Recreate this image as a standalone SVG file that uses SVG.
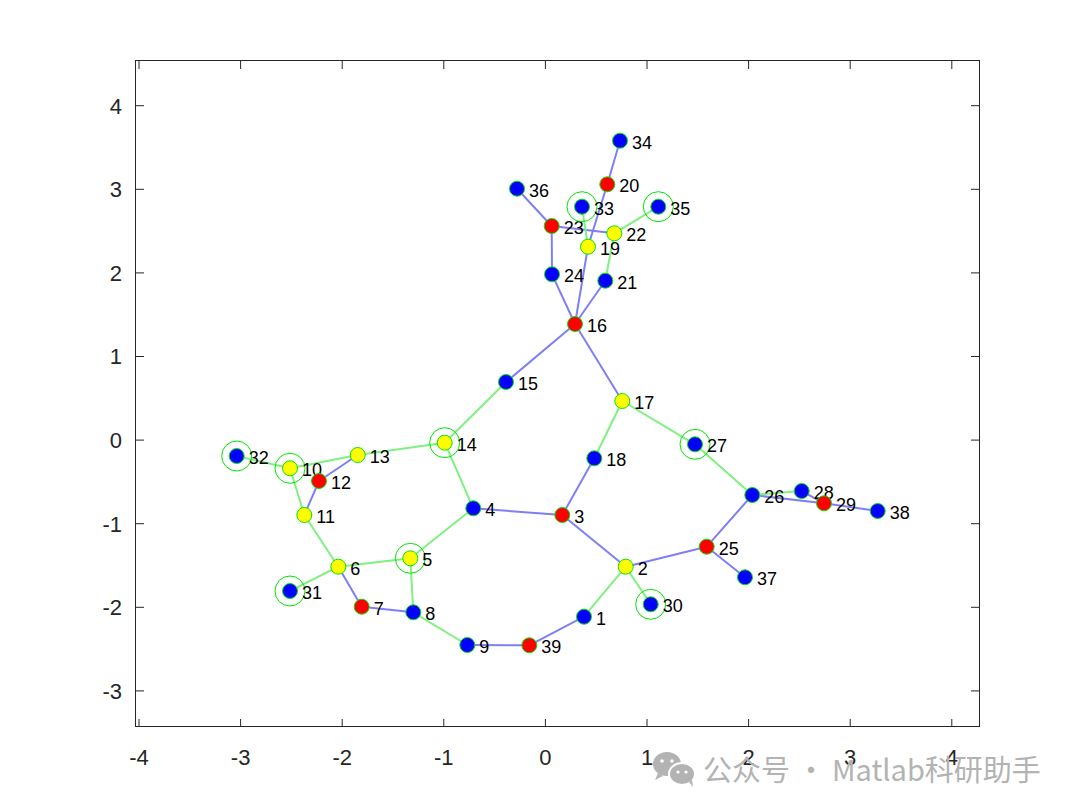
<svg xmlns="http://www.w3.org/2000/svg" width="1080" height="812" viewBox="0 0 1080 812">
<style>
.ax{stroke:#262626;stroke-width:1;fill:none}
.tk{font-family:"Liberation Sans",Arial,sans-serif;font-size:22px;fill:#262626}
.eb{stroke:#7f7ff5;stroke-width:2;fill:none}
.eg{stroke:#80f080;stroke-width:2;fill:none}
.nb{fill:#0000ff;stroke:#00e600;stroke-width:1}
.nr{fill:#ff0000;stroke:#00e600;stroke-width:1}
.ny{fill:#ffff00;stroke:#00e600;stroke-width:1}
.big{fill:none;stroke:#00e600;stroke-width:1}
.lb{font-family:"Liberation Sans",Arial,sans-serif;font-size:18px;fill:#000}
.wm{font-family:"Noto Sans CJK SC","Liberation Sans",sans-serif;font-size:29px;fill:#b3b3b3}
</style>
<rect width="1080" height="812" fill="#ffffff"/>
<g id="axes">
<rect x="135.5" y="60.5" width="844" height="666" class="ax"/>
<path class="ax" d="M139,727v-8M240.6,727v-8M342.2,727v-8M443.8,727v-8M545.4,727v-8M647,727v-8M748.6,727v-8M850.2,727v-8M951.8,727v-8
M139,61v8M240.6,61v8M342.2,61v8M443.8,61v8M545.4,61v8M647,61v8M748.6,61v8M850.2,61v8M951.8,61v8
M136,105.7h8M136,189.3h8M136,272.9h8M136,356.5h8M136,440.1h8M136,523.7h8M136,607.3h8M136,690.9h8
M979,105.7h-8M979,189.3h-8M979,272.9h-8M979,356.5h-8M979,440.1h-8M979,523.7h-8M979,607.3h-8M979,690.9h-8"/>
<g class="tk" text-anchor="middle">
<text x="139" y="765">-4</text><text x="240.6" y="765">-3</text><text x="342.2" y="765">-2</text><text x="443.8" y="765">-1</text><text x="545.4" y="765">0</text><text x="647" y="765">1</text><text x="748.6" y="765">2</text><text x="850.2" y="765">3</text><text x="951.8" y="765">4</text>
</g>
<g class="tk" text-anchor="end">
<text x="122" y="113.5">4</text><text x="122" y="197.1">3</text><text x="122" y="280.7">2</text><text x="122" y="364.3">1</text><text x="122" y="447.9">0</text><text x="122" y="531.5">-1</text><text x="122" y="615.1">-2</text><text x="122" y="698.7">-3</text>
</g>
</g>
<g id="connectors">
<path class="eb" d="M620,140.7L607.3,184.3M607.3,184.3L588,246.7M588,246.7L575,324M551.7,226L614.3,233.3M517,188.7L551.7,226M551.7,226L552,274.3M552,274.3L575,324M605.3,280.7L575,324M575,324L506,382M575,324L622.3,401M357.7,455L319,481M319,481L304.3,515M338.3,566.7L361.7,606.7M361.7,606.7L413.3,612.3M473.3,508.3L562.3,515M467.3,645L529.3,645.3M529.3,645.3L584,616.7M625.7,566.7L562.3,515M562.3,515L594.3,458.3M752.3,495L706.7,546.7M706.7,546.7L625.7,566.7M706.7,546.7L745,577.3M752.3,495L824,503.3M801.7,491L824,503.3M824,503.3L877.7,511"/>
<path class="eg" d="M582,206.7L588,246.7M614.3,233.3L658.3,206.7M614.3,233.3L605.3,280.7M506,382L444.7,442.7M444.7,442.7L357.7,455M357.7,455L290,468.3M290,468.3L236.7,456M290,468.3L304.3,515M304.3,515L338.3,566.7M338.3,566.7L290,591M338.3,566.7L410.3,558.3M410.3,558.3L413.3,612.3M410.3,558.3L473.3,508.3M444.7,442.7L473.3,508.3M413.3,612.3L467.3,645M584,616.7L625.7,566.7M625.7,566.7L650.7,604.3M594.3,458.3L622.3,401M622.3,401L695,444.3M695,444.3L752.3,495M752.3,495L801.7,491"/>
</g>
<g id="n1"><circle class="nb" cx="584" cy="616.7" r="7.5"/><text class="lb" x="596" y="624.5">1</text></g>
<g id="n2"><circle class="ny" cx="625.7" cy="566.7" r="7.5"/><text class="lb" x="637.7" y="574.5">2</text></g>
<g id="n3"><circle class="nr" cx="562.3" cy="515" r="7.5"/><text class="lb" x="574.3" y="522.8">3</text></g>
<g id="n4"><circle class="nb" cx="473.3" cy="508.3" r="7.5"/><text class="lb" x="485.3" y="516.1">4</text></g>
<g id="n5"><circle class="big" cx="410.3" cy="558.3" r="15"/><circle class="ny" cx="410.3" cy="558.3" r="7.5"/><text class="lb" x="422.3" y="566.1">5</text></g>
<g id="n6"><circle class="ny" cx="338.3" cy="566.7" r="7.5"/><text class="lb" x="350.3" y="574.5">6</text></g>
<g id="n7"><circle class="nr" cx="361.7" cy="606.7" r="7.5"/><text class="lb" x="373.7" y="614.5">7</text></g>
<g id="n8"><circle class="nb" cx="413.3" cy="612.3" r="7.5"/><text class="lb" x="425.3" y="620.1">8</text></g>
<g id="n9"><circle class="nb" cx="467.3" cy="645" r="7.5"/><text class="lb" x="479.3" y="652.8">9</text></g>
<g id="n10"><circle class="big" cx="290" cy="468.3" r="15"/><circle class="ny" cx="290" cy="468.3" r="7.5"/><text class="lb" x="302" y="476.1">10</text></g>
<g id="n11"><circle class="ny" cx="304.3" cy="515" r="7.5"/><text class="lb" x="316.3" y="522.8">11</text></g>
<g id="n12"><circle class="nr" cx="319" cy="481" r="7.5"/><text class="lb" x="331" y="488.8">12</text></g>
<g id="n13"><circle class="ny" cx="357.7" cy="455" r="7.5"/><text class="lb" x="369.7" y="462.8">13</text></g>
<g id="n14"><circle class="big" cx="444.7" cy="442.7" r="15"/><circle class="ny" cx="444.7" cy="442.7" r="7.5"/><text class="lb" x="456.7" y="450.5">14</text></g>
<g id="n15"><circle class="nb" cx="506" cy="382" r="7.5"/><text class="lb" x="518" y="389.8">15</text></g>
<g id="n16"><circle class="nr" cx="575" cy="324" r="7.5"/><text class="lb" x="587" y="331.8">16</text></g>
<g id="n17"><circle class="ny" cx="622.3" cy="401" r="7.5"/><text class="lb" x="634.3" y="408.8">17</text></g>
<g id="n18"><circle class="nb" cx="594.3" cy="458.3" r="7.5"/><text class="lb" x="606.3" y="466.1">18</text></g>
<g id="n19"><circle class="ny" cx="588" cy="246.7" r="7.5"/><text class="lb" x="600" y="254.5">19</text></g>
<g id="n20"><circle class="nr" cx="607.3" cy="184.3" r="7.5"/><text class="lb" x="619.3" y="192.1">20</text></g>
<g id="n21"><circle class="nb" cx="605.3" cy="280.7" r="7.5"/><text class="lb" x="617.3" y="288.5">21</text></g>
<g id="n22"><circle class="ny" cx="614.3" cy="233.3" r="7.5"/><text class="lb" x="626.3" y="241.1">22</text></g>
<g id="n23"><circle class="nr" cx="551.7" cy="226" r="7.5"/><text class="lb" x="563.7" y="233.8">23</text></g>
<g id="n24"><circle class="nb" cx="552" cy="274.3" r="7.5"/><text class="lb" x="564" y="282.1">24</text></g>
<g id="n25"><circle class="nr" cx="706.7" cy="546.7" r="7.5"/><text class="lb" x="718.7" y="554.5">25</text></g>
<g id="n26"><circle class="nb" cx="752.3" cy="495" r="7.5"/><text class="lb" x="764.3" y="502.8">26</text></g>
<g id="n27"><circle class="big" cx="695" cy="444.3" r="15"/><circle class="nb" cx="695" cy="444.3" r="7.5"/><text class="lb" x="707" y="452.1">27</text></g>
<g id="n28"><circle class="nb" cx="801.7" cy="491" r="7.5"/><text class="lb" x="813.7" y="498.8">28</text></g>
<g id="n29"><circle class="nr" cx="824" cy="503.3" r="7.5"/><text class="lb" x="836" y="511.1">29</text></g>
<g id="n30"><circle class="big" cx="650.7" cy="604.3" r="15"/><circle class="nb" cx="650.7" cy="604.3" r="7.5"/><text class="lb" x="662.7" y="612.1">30</text></g>
<g id="n31"><circle class="big" cx="290" cy="591" r="15"/><circle class="nb" cx="290" cy="591" r="7.5"/><text class="lb" x="302" y="598.8">31</text></g>
<g id="n32"><circle class="big" cx="236.7" cy="456" r="15"/><circle class="nb" cx="236.7" cy="456" r="7.5"/><text class="lb" x="248.7" y="463.8">32</text></g>
<g id="n33"><circle class="big" cx="582" cy="206.7" r="15"/><circle class="nb" cx="582" cy="206.7" r="7.5"/><text class="lb" x="594" y="214.5">33</text></g>
<g id="n34"><circle class="nb" cx="620" cy="140.7" r="7.5"/><text class="lb" x="632" y="148.5">34</text></g>
<g id="n35"><circle class="big" cx="658.3" cy="206.7" r="15"/><circle class="nb" cx="658.3" cy="206.7" r="7.5"/><text class="lb" x="670.3" y="214.5">35</text></g>
<g id="n36"><circle class="nb" cx="517" cy="188.7" r="7.5"/><text class="lb" x="529" y="196.5">36</text></g>
<g id="n37"><circle class="nb" cx="745" cy="577.3" r="7.5"/><text class="lb" x="757" y="585.1">37</text></g>
<g id="n38"><circle class="nb" cx="877.7" cy="511" r="7.5"/><text class="lb" x="889.7" y="518.8">38</text></g>
<g id="n39"><circle class="nr" cx="529.3" cy="645.3" r="7.5"/><text class="lb" x="541.3" y="653.1">39</text></g>
<g id="watermark">
<ellipse cx="667" cy="764" rx="14" ry="12" fill="#b3b3b3"/>
<path d="M658,773l-3,7l8,-4z" fill="#b3b3b3"/>
<ellipse cx="682" cy="774" rx="13" ry="11" fill="#b3b3b3" stroke="#fff" stroke-width="2"/>
<path d="M689,782l4,5l-1,-7z" fill="#b3b3b3"/>
<circle cx="662" cy="761" r="1.8" fill="#fff"/><circle cx="672" cy="761" r="1.8" fill="#fff"/>
<circle cx="678" cy="772" r="1.6" fill="#fff"/><circle cx="686" cy="772" r="1.6" fill="#fff"/>
<text class="wm" x="703" y="781">公众号 · Matlab科研助手</text>
</g>
</svg>
